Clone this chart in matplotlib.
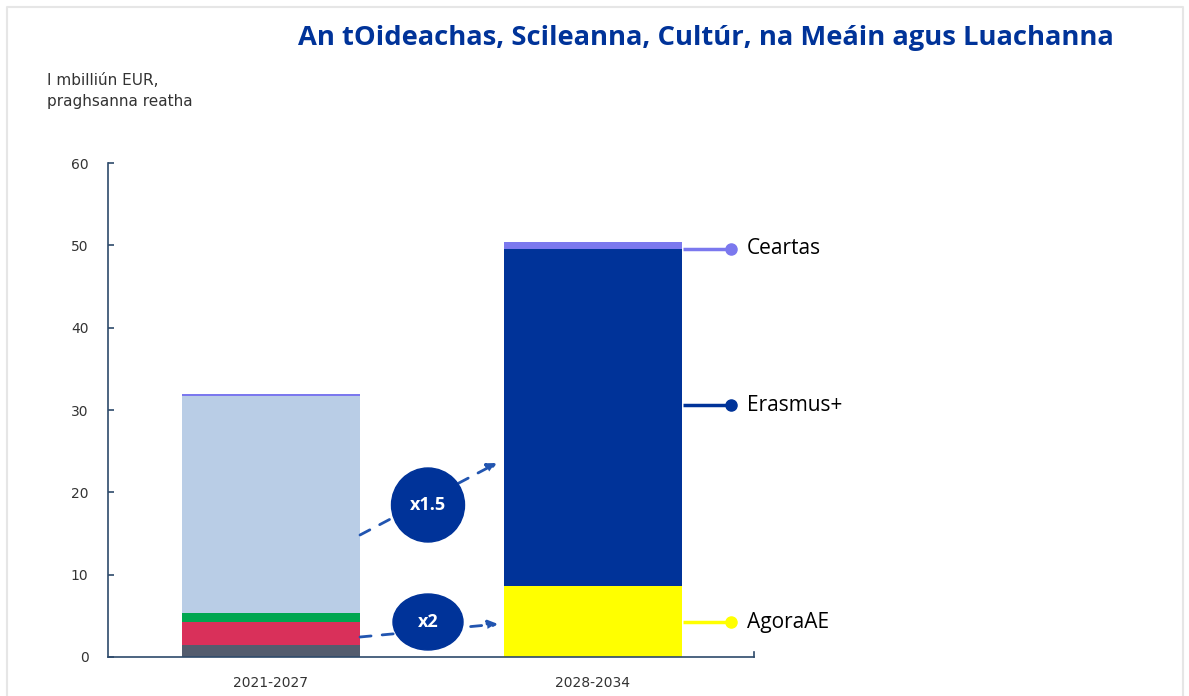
import matplotlib
matplotlib.use("Agg")
import matplotlib.pyplot as plt
from matplotlib.patches import Ellipse

# ---- data ----
periods = ["2021-2027", "2028-2034"]
# 2021-2027 stack (bottom -> top)
old_labels = ["Gray", "Red", "Green", "Light blue", "Ceartas (old)"]
old_values = [1.5, 2.7, 1.2, 26.3, 0.3]
old_colors = ["#535c6e", "#d9305a", "#00a650", "#b9cde6", "#7b78ee"]
# 2028-2034 stack (bottom -> top)
new_labels = ["AgoraAE", "Erasmus+", "Ceartas"]
new_values = [8.6, 41.0, 0.8]
new_colors = ["#ffff00", "#003399", "#7b78ee"]
yticks = [0, 10, 20, 30, 40, 50, 60]
multipliers = ["x1.5", "x2"]

W, H = 1189, 696
fig = plt.figure(figsize=(W / 100, H / 100), dpi=100)
fig.patch.set_facecolor("white")

# px helpers
def fx(px): return px / W
def fy(py): return 1 - py / H

ax = fig.add_axes([fx(108), fy(657), fx(754) - fx(108), fy(163) - fy(657)])
width = 0.553
bottom = 0
for v, c in zip(old_values, old_colors):
    ax.bar(0, v, width=width, bottom=bottom, color=c, linewidth=0, zorder=2)
    bottom += v
bottom = 0
for v, c in zip(new_values, new_colors):
    ax.bar(1, v, width=width, bottom=bottom, color=c, linewidth=0, zorder=2)
    bottom += v

ax.set_xlim(-0.506, 1.5)
ax.set_ylim(0, 60)
ax.set_yticks(yticks)
ax.set_xticks([0, 1])
ax.set_xticklabels(periods, fontsize=10, color="#333333", family="DejaVu Sans")
ax.tick_params(axis="x", length=0, pad=14)
ax.tick_params(axis="y", direction="in", length=4, width=1.2, color="#2e4a6b",
               labelsize=10, labelcolor="#333333", pad=14)
for s in ["top", "right"]:
    ax.spines[s].set_visible(False)
for s in ["left", "bottom"]:
    ax.spines[s].set_color("#2e4a6b")
    ax.spines[s].set_linewidth(1.2)

# overlay axes in pixel coordinates
ov = fig.add_axes([0, 0, 1, 1], facecolor="none")
ov.set_xlim(0, W)
ov.set_ylim(H, 0)
ov.axis("off")

# frame border
ov.plot([7, 7, 1183, 1183], [H, 7, 7, H], color="#e6e6e6", lw=1.5, zorder=0)
# end tick on x axis
ov.plot([754, 754], [657, 652], color="#2e4a6b", lw=1.2)

def ypx(v):
    return 657 - v * (494 / 60)

# leader lines for legend
leg = [("Ceartas", 49.6, "#7b78ee"), ("Erasmus+", 30.6, "#003399"), ("AgoraAE", 4.25, "#ffff00")]
for name, v, c in leg:
    yy = ypx(v)
    ov.plot([683, 731], [yy, yy], color=c, lw=2.5, solid_capstyle="butt", zorder=3)
    ov.plot([731], [yy], "o", color=c, ms=8, zorder=3)
    ov.text(747, yy, name, fontsize=15, color="black", va="center", ha="left",
            family="Open Sans")

# dashed arrows
ov.annotate("", xy=(497, 463), xytext=(360, 535),
            arrowprops=dict(arrowstyle="-|>", linestyle=(0, (4, 4)), color="#2255b0",
                            lw=2, mutation_scale=14, shrinkA=0, shrinkB=0), zorder=4)
ov.annotate("", xy=(498, 624), xytext=(360, 637),
            arrowprops=dict(arrowstyle="-|>", linestyle=(0, (4, 4)), color="#2255b0",
                            lw=2, mutation_scale=14, shrinkA=0, shrinkB=0), zorder=4)

# circles
for (cx, cy, w, h), lab in zip([(428, 505, 73, 74), (428, 622, 70, 56)], multipliers):
    ov.add_patch(Ellipse((cx, cy), w, h, color="#003399", zorder=5))
    ov.text(cx, cy, lab, color="white", fontsize=13, fontweight="bold",
            ha="center", va="center", zorder=6, family="Open Sans")

# title
ov.text(706, 38, "An tOideachas, Scileanna, Cultúr, na Meáin agus Luachanna",
        fontsize=19.7, fontweight="bold", color="#003399", ha="center", va="center",
        family="Open Sans")
# y-axis caption
ov.text(47, 91, "I mbilliún EUR,\npraghsanna reatha", fontsize=11, color="#333333",
        ha="left", va="center", linespacing=1.5, family="DejaVu Sans")

fig.savefig("out.png", dpi=100)
